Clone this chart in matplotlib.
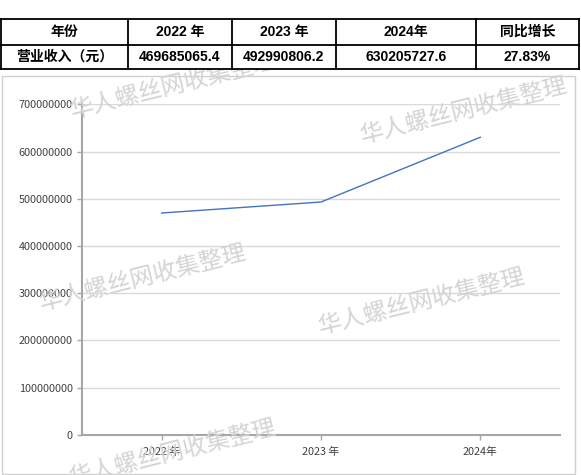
import matplotlib
matplotlib.use("Agg")
import matplotlib.pyplot as plt
from matplotlib.patches import Rectangle

# ---- data ----
years = ["2022 年", "2023 年", "2024年"]
revenue = [469685065.4, 492990806.2, 630205727.6]
header = ["年份", "2022 年", "2023 年", "2024年", "同比增长"]
row_label = "营业收入（元）"
row_values = ["469685065.4", "492990806.2", "630205727.6", "27.83%"]
yticks = [0, 100000000, 200000000, 300000000, 400000000, 500000000, 600000000, 700000000]
watermark = "华人螺丝网收集整理"

W, H = 581, 475
fig = plt.figure(figsize=(W / 100, H / 100), dpi=100)
fig.patch.set_facecolor("white")

def fx(px):
    return px / W

def fy(py):
    return 1 - py / H

# chart border
fig.add_artist(Rectangle((fx(2), fy(473.5)), fx(575) - fx(2), fy(75.5) - fy(473.5),
                         transform=fig.transFigure, fill=False,
                         edgecolor="#d0d0d0", lw=1.0, zorder=1))

# chart axes
ax = fig.add_axes([fx(82), fy(434.7), fx(560) - fx(82), fy(104.3) - fy(434.7)])
ax.set_facecolor("none")
ax.set_zorder(2)
x = list(range(len(years)))
ax.plot(x, revenue, color="#4472C4", lw=1.0, zorder=3)
ax.set_xlim(-0.5, len(years) - 0.5)
ax.set_ylim(0, 700000000)
ax.set_yticks(yticks)
ax.set_yticklabels([str(v) for v in yticks])
ax.set_xticks(x)
ax.set_xticklabels(years)
ax.grid(axis="y", color="#d9d9d9", lw=1.0)
ax.set_axisbelow(True)
for s in ["top", "right"]:
    ax.spines[s].set_visible(False)
for s in ["left", "bottom"]:
    ax.spines[s].set_color("#a6a6a6")
    ax.spines[s].set_linewidth(1.5)
ax.tick_params(axis="y", direction="out", length=3.6, width=1, color="#a6a6a6",
               pad=3, labelsize=7.8, labelcolor="#404040")
ax.tick_params(axis="x", direction="out", length=3.6, width=1, color="#a6a6a6",
               pad=5, labelsize=7.8, labelcolor="#404040")
for lab in ax.get_yticklabels() + ax.get_xticklabels():
    lab.set_family(["Noto Sans CJK SC", "DejaVu Sans"])

# watermarks
wm_pos = [(174, 86), (464, 111), (143, 278), (422, 302), (173, 453)]
for (px, py) in wm_pos:
    fig.text(fx(px), fy(py), watermark, rotation=14, ha="center", va="center",
             fontsize=17, color="#d4d4d4", family=["Noto Sans CJK SC", "DejaVu Sans"],
             zorder=5, rotation_mode="anchor")

# table
tax = fig.add_axes([0, fy(76), 1, 1 - fy(76)])
tax.set_zorder(10)
tax.set_xlim(0, W)
tax.set_ylim(76, 0)
tax.axis("off")
tax.add_patch(Rectangle((1, 19), 578, 50, facecolor="white", edgecolor="none"))
cols = [1, 128, 231.5, 336, 476, 579]
rows = [19, 44.5, 69]
for c in cols:
    tax.plot([c, c], [rows[0], rows[-1]], color="black", lw=1.3, solid_capstyle="projecting")
for r in rows:
    tax.plot([cols[0], cols[-1]], [r, r], color="black", lw=1.3, solid_capstyle="projecting")
cells = [header, [row_label] + row_values]
for ri, rowtxt in enumerate(cells):
    yc = (rows[ri] + rows[ri + 1]) / 2
    for ci, t in enumerate(rowtxt):
        xc = (cols[ci] + cols[ci + 1]) / 2
        tax.text(xc, yc, t, ha="center", va="center", fontsize=10, weight="bold",
                 family=["Liberation Sans", "Noto Sans CJK SC"], color="black")

fig.savefig("out.png", dpi=100, facecolor="white")
